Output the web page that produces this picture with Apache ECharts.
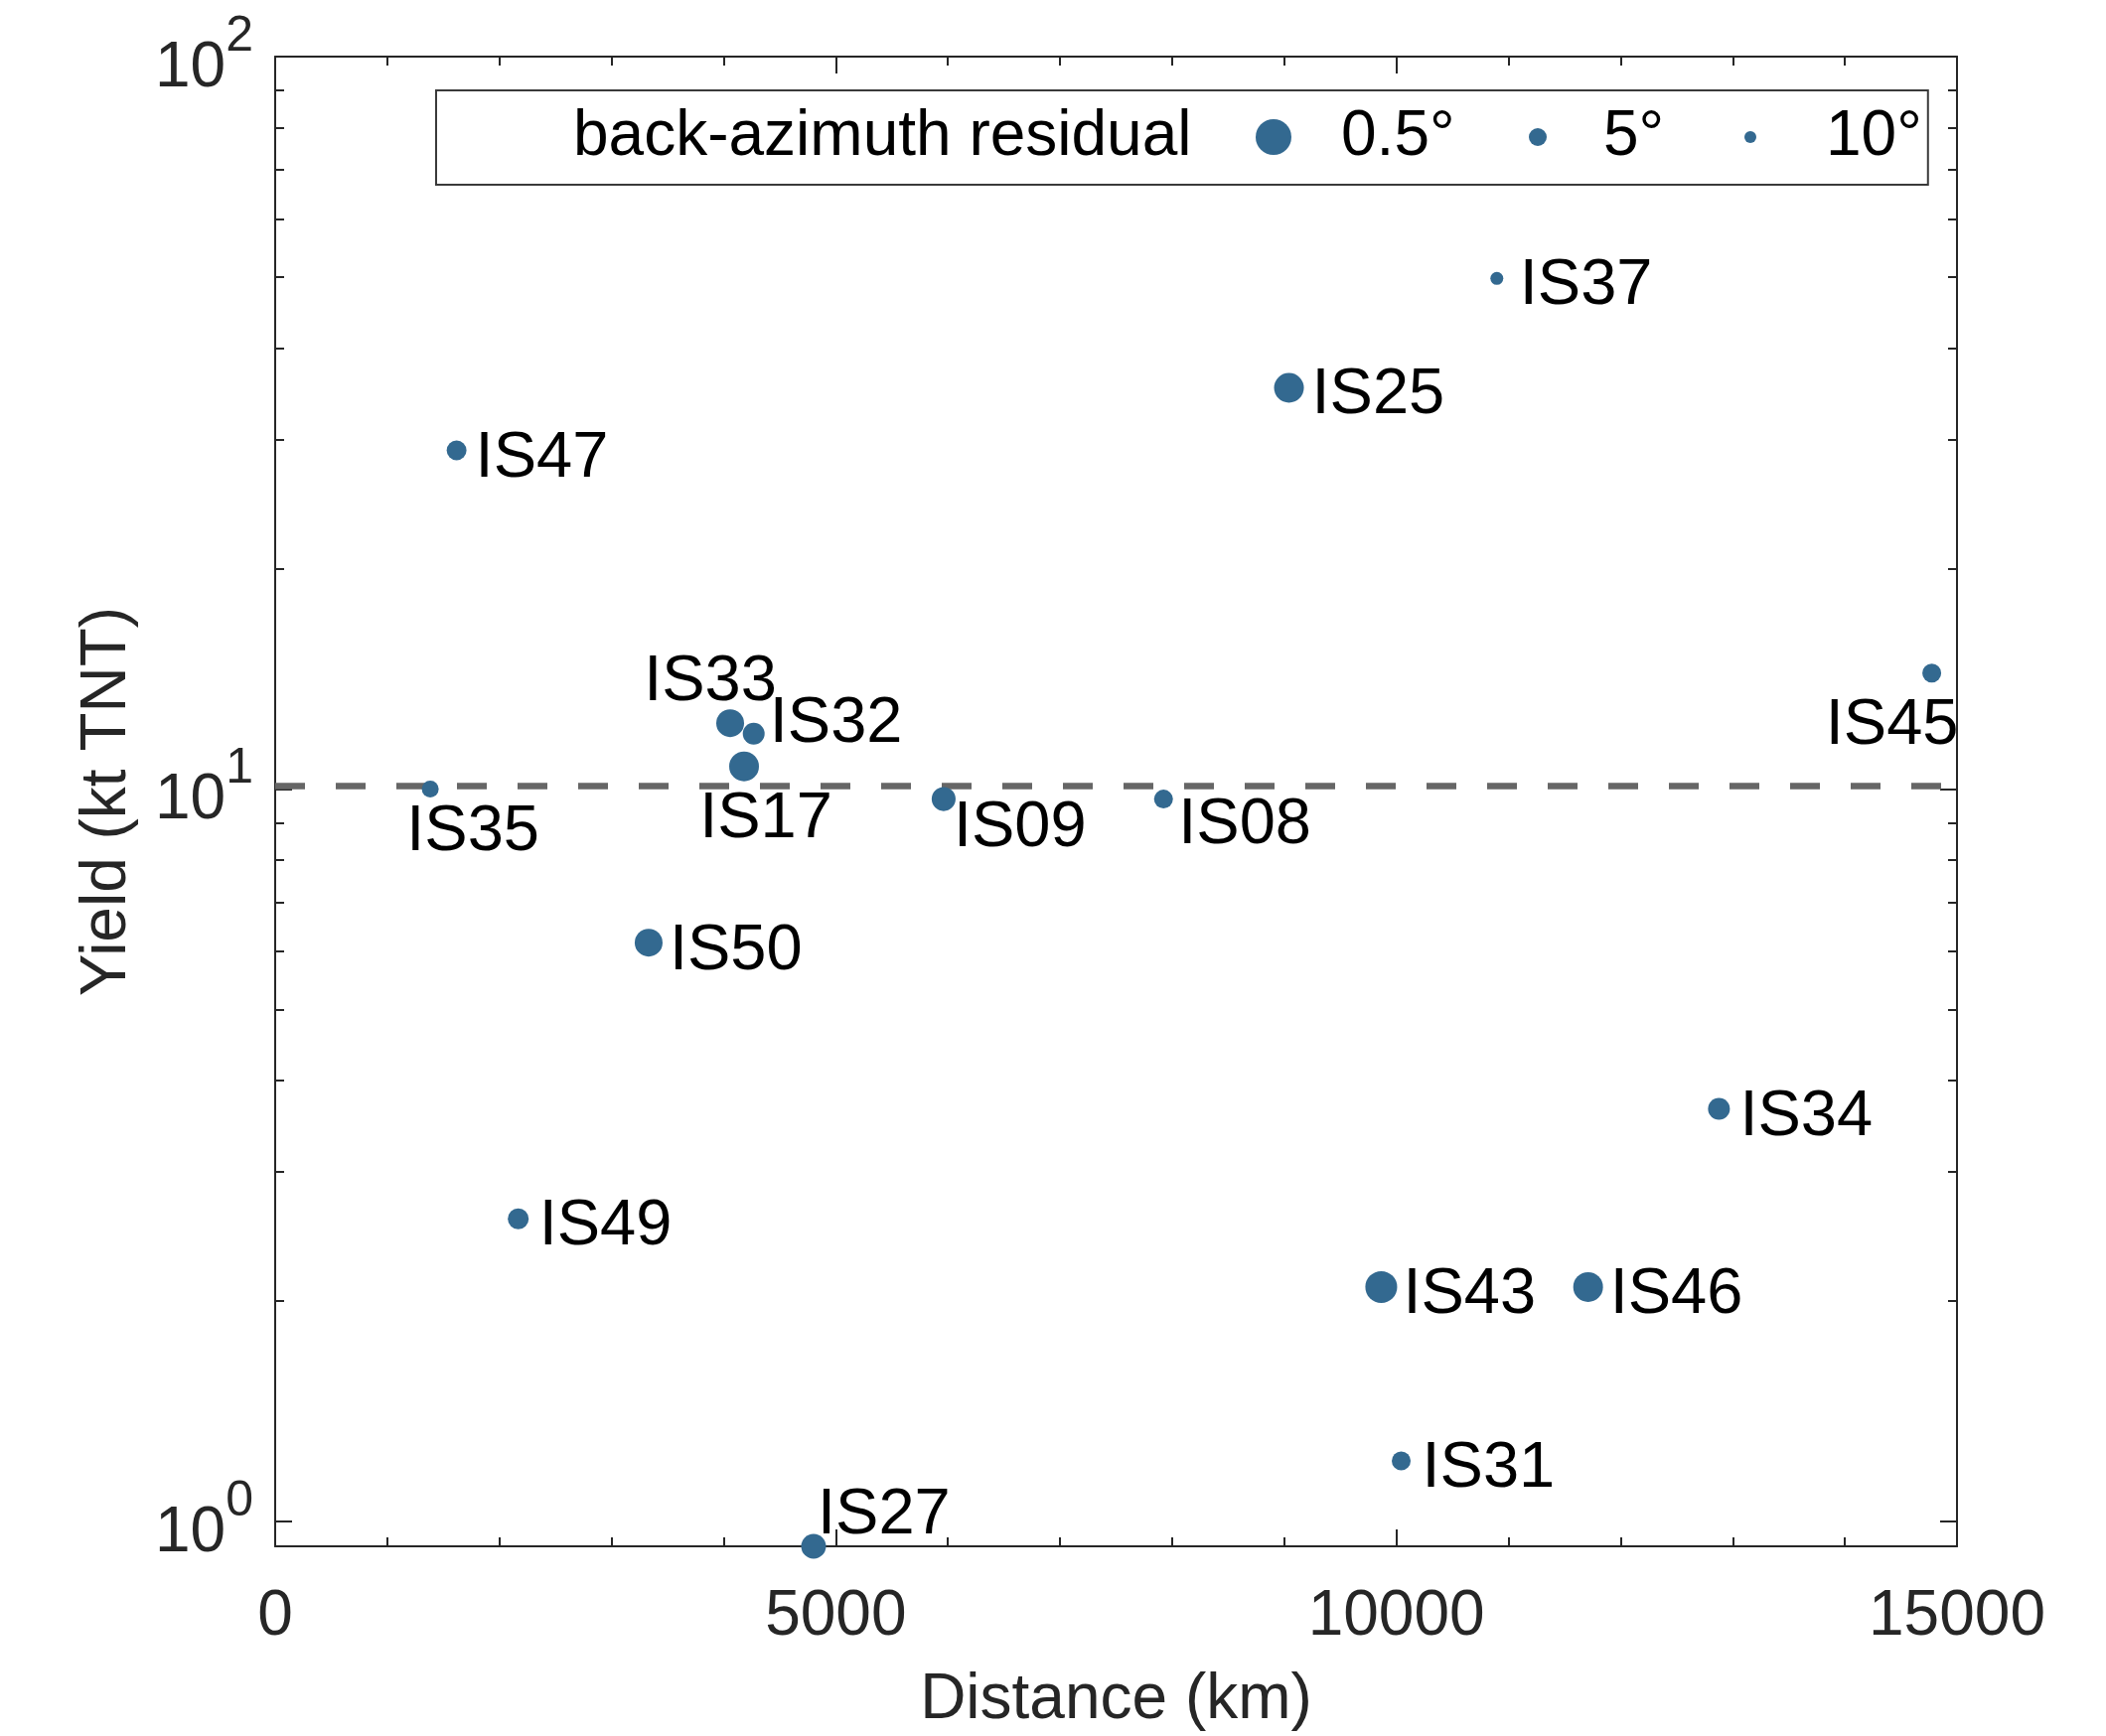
<!DOCTYPE html>
<html>
<head>
<meta charset="utf-8">
<script src="https://cdn.jsdelivr.net/npm/echarts@6/dist/echarts.min.js"></script>
<style>
html,body{margin:0;padding:0;background:#ffffff;}
#chart{width:2120px;height:1748px;}
</style>
</head>
<body>
<div id="chart"></div>
<script>
// ---------------- DATA ----------------
const stations = ['IS47','IS37','IS25','IS45','IS33','IS32','IS17','IS35','IS09','IS08','IS50','IS34','IS49','IS43','IS46','IS31','IS27'];
const distanceKm = [1618, 10896, 9042, 14775, 4058, 4268, 4182, 1383, 5962, 7923, 3331, 12877, 2168, 9865, 11710, 10043, 4802];
const yieldKt = [29.0, 49.8, 35.3, 14.4, 12.3, 11.9, 10.74, 10.0, 9.69, 9.69, 6.17, 3.66, 2.59, 2.09, 2.09, 1.21, 0.925];
const bazResidualDeg = [3.9, 8.9, 1.08, 4.4, 1.39, 3.0, 1.08, 5.6, 2.3, 4.4, 1.39, 3.0, 3.4, 0.83, 1.08, 4.4, 2.04];
const legendTitle = 'back-azimuth residual';
const legendResidualDeg = [0.5, 5, 10];
const legendLabels = ['0.5°', '5°', '10°'];
const referenceYield = 10.1;
const xRange = [0, 15000];
const xTickStep = 5000;
const yRange = [0.925, 100];
const yMajorTicks = [1, 10, 100];
const yMinorTicks = [2, 3, 4, 5, 6, 7, 8, 9, 20, 30, 40, 50, 60, 70, 80, 90];
const xAxisTitle = 'Distance (km)';
const yAxisTitle = 'Yield (kt TNT)';

// ---------------- STYLE ----------------
const FONT = "'Liberation Sans', Arial, Helvetica, sans-serif";
const AXIS_COLOR = '#262626';
const MARKER_COLOR = '#336990';
const FS = 64;

// marker diameter from back-azimuth residual (log interpolation between legend anchors)
function markerDiameter(r) {
  const L = Math.log10;
  if (r <= 5) return 36 + (18 - 36) * (L(r) - L(0.5)) / (L(5) - L(0.5));
  return 18 + (12 - 18) * (L(r) - L(5)) / (L(10) - L(5));
}

// label placement per station: [align, dx, dy] relative to marker centre
const LABEL_DY = 5;
const labelPlacement = {
  IS47: ['left', 19, 4], IS37: ['left', 23, 3], IS25: ['left', 23, 3],
  IS45: ['center', -40, 48], IS33: ['center', -20, -46], IS32: ['left', 16, -15],
  IS17: ['center', 22, 48], IS35: ['center', 43, 39], IS09: ['left', 10, 24],
  IS08: ['left', 15, 21], IS50: ['left', 21, 4], IS34: ['left', 21, 4],
  IS49: ['left', 21, 3], IS43: ['left', 22, 3], IS46: ['left', 22, 3],
  IS31: ['left', 21, 3], IS27: ['left', 4, -36]
};

const points = stations.map(function (n, i) {
  const p = labelPlacement[n];
  return {
    name: n,
    value: [distanceKm[i], yieldKt[i]],
    symbolSize: markerDiameter(bazResidualDeg[i]),
    label: {
      show: true, position: 'inside', formatter: '{b}',
      align: p[0], verticalAlign: 'middle', offset: [p[1], p[2] + LABEL_DY],
      color: '#000000', fontSize: 65, fontFamily: FONT,
      textBorderWidth: 0
    }
  };
});

const lineStyle = { color: AXIS_COLOR, width: 2 };

function logAxis(position, ticks, tickLen, withLine, withLabels) {
  const ax = {
    type: 'log', logBase: 10, min: yRange[0], max: yRange[1], position: position,
    axisLine: { show: withLine, onZero: false, lineStyle: lineStyle },
    axisTick: { show: true, inside: true, length: tickLen, customValues: ticks, lineStyle: lineStyle },
    minorTick: { show: false },
    splitLine: { show: false },
    axisLabel: { show: false }
  };
  if (withLabels) {
    ax.axisLabel = {
      show: true, customValues: yMajorTicks, margin: 22, color: AXIS_COLOR,
      formatter: function (v) {
        return '{b|10}{s|' + Math.round(Math.log10(v)) + '}';
      },
      rich: {
        b: { fontSize: FS, height: FS, lineHeight: 88, fontFamily: FONT, color: AXIS_COLOR, verticalAlign: 'bottom' },
        s: { fontSize: 50, height: 48, lineHeight: 48, fontFamily: FONT, color: AXIS_COLOR, verticalAlign: 'top' }
      }
    };
    ax.name = yAxisTitle;
    ax.nameLocation = 'middle';
    ax.nameRotate = 90;
    ax.nameGap = 137;
    ax.nameTextStyle = { fontSize: FS, fontFamily: FONT, color: AXIS_COLOR };
  }
  return ax;
}

function linAxis(position, withLabels) {
  const ax = {
    type: 'value', min: xRange[0], max: xRange[1], interval: xTickStep, position: position,
    axisLine: { show: true, onZero: false, lineStyle: lineStyle },
    axisTick: { show: true, inside: true, length: 17, lineStyle: lineStyle },
    minorTick: { show: true, splitNumber: 5, length: 9, lineStyle: lineStyle },
    splitLine: { show: false },
    axisLabel: { show: false }
  };
  if (withLabels) {
    ax.axisLabel = {
      show: true, margin: 39, color: AXIS_COLOR, fontSize: FS, fontFamily: FONT,
      showMinLabel: true, showMaxLabel: true, hideOverlap: false,
      formatter: function (v) { return String(v); }
    };
    ax.name = xAxisTitle;
    ax.nameLocation = 'middle';
    ax.nameGap = 123;
    ax.nameTextStyle = { fontSize: FS, fontFamily: FONT, color: AXIS_COLOR };
  }
  return ax;
}

// legend layout (rich fragments)
const legendSpacer = [22, 54, 57];
const legendGap = [50, 57, 70];
const legendTextW = [130, 80, 95];
const legendRich = {
  title: { width: 660, fontSize: FS, lineHeight: FS, fontFamily: FONT, color: '#000000' }
};
legendResidualDeg.forEach(function (r, i) {
  const d = Math.round(markerDiameter(r));
  legendRich['s' + i] = { width: legendSpacer[i], height: 4 };
  legendRich['d' + i] = { width: d, height: d, backgroundColor: MARKER_COLOR, borderRadius: d / 2 };
  legendRich['g' + i] = { width: legendGap[i], height: 4 };
  legendRich['t' + i] = { width: legendTextW[i], fontSize: FS, lineHeight: FS, fontFamily: FONT, color: '#000000' };
});

const legendSeries = [legendTitle].concat(legendLabels).map(function (n) {
  return { type: 'scatter', name: n, data: [], itemStyle: { color: MARKER_COLOR }, silent: true };
});

const option = {
  animation: false,
  backgroundColor: '#ffffff',
  grid: { left: 277, top: 57, width: 1693, height: 1500, containLabel: false, outerBoundsMode: 'none' },
  xAxis: [linAxis('bottom', true), linAxis('top', false)],
  yAxis: [
    logAxis('left', yMajorTicks, 17, true, true),
    logAxis('left', yMinorTicks, 9, false, false),
    logAxis('right', yMajorTicks, 17, true, false),
    logAxis('right', yMinorTicks, 9, false, false)
  ],
  legend: {
    show: true, left: 439, top: 91, orient: 'horizontal',
    itemGap: 0, itemWidth: 0, itemHeight: 64,
    padding: [15, 6, 16, 133],
    borderColor: '#3a3a3a', borderWidth: 2, backgroundColor: '#ffffff',
    selectedMode: false,
    itemStyle: { opacity: 0, borderWidth: 0 },
    data: [legendTitle].concat(legendLabels),
    formatter: function (name) {
      if (name === legendTitle) return '{title|' + name + '}';
      const i = legendLabels.indexOf(name);
      return '{s' + i + '|}{d' + i + '|}{g' + i + '|}{t' + i + '|' + name + '}';
    },
    textStyle: { fontSize: FS, fontFamily: FONT, color: '#000000', rich: legendRich }
  },
  series: [
    {
      type: 'scatter', name: 'reference', data: [], xAxisIndex: 0, yAxisIndex: 0, z: 1, silent: true,
      markLine: {
        silent: true, symbol: ['none', 'none'], z: 1,
        label: { show: false },
        emphasis: { disabled: true },
        lineStyle: { type: [30, 31], width: 6.5, color: '#666666', opacity: 1 },
        data: [{ yAxis: referenceYield }]
      }
    },
    {
      type: 'scatter', name: 'stations', xAxisIndex: 0, yAxisIndex: 0, z: 10,
      symbol: 'circle', clip: false,
      itemStyle: { color: MARKER_COLOR, opacity: 1 },
      emphasis: { disabled: true },
      data: points
    }
  ].concat(legendSeries)
};

const chart = echarts.init(document.getElementById('chart'), null, { renderer: 'canvas' });
chart.setOption(option);
</script>
</body>
</html>
